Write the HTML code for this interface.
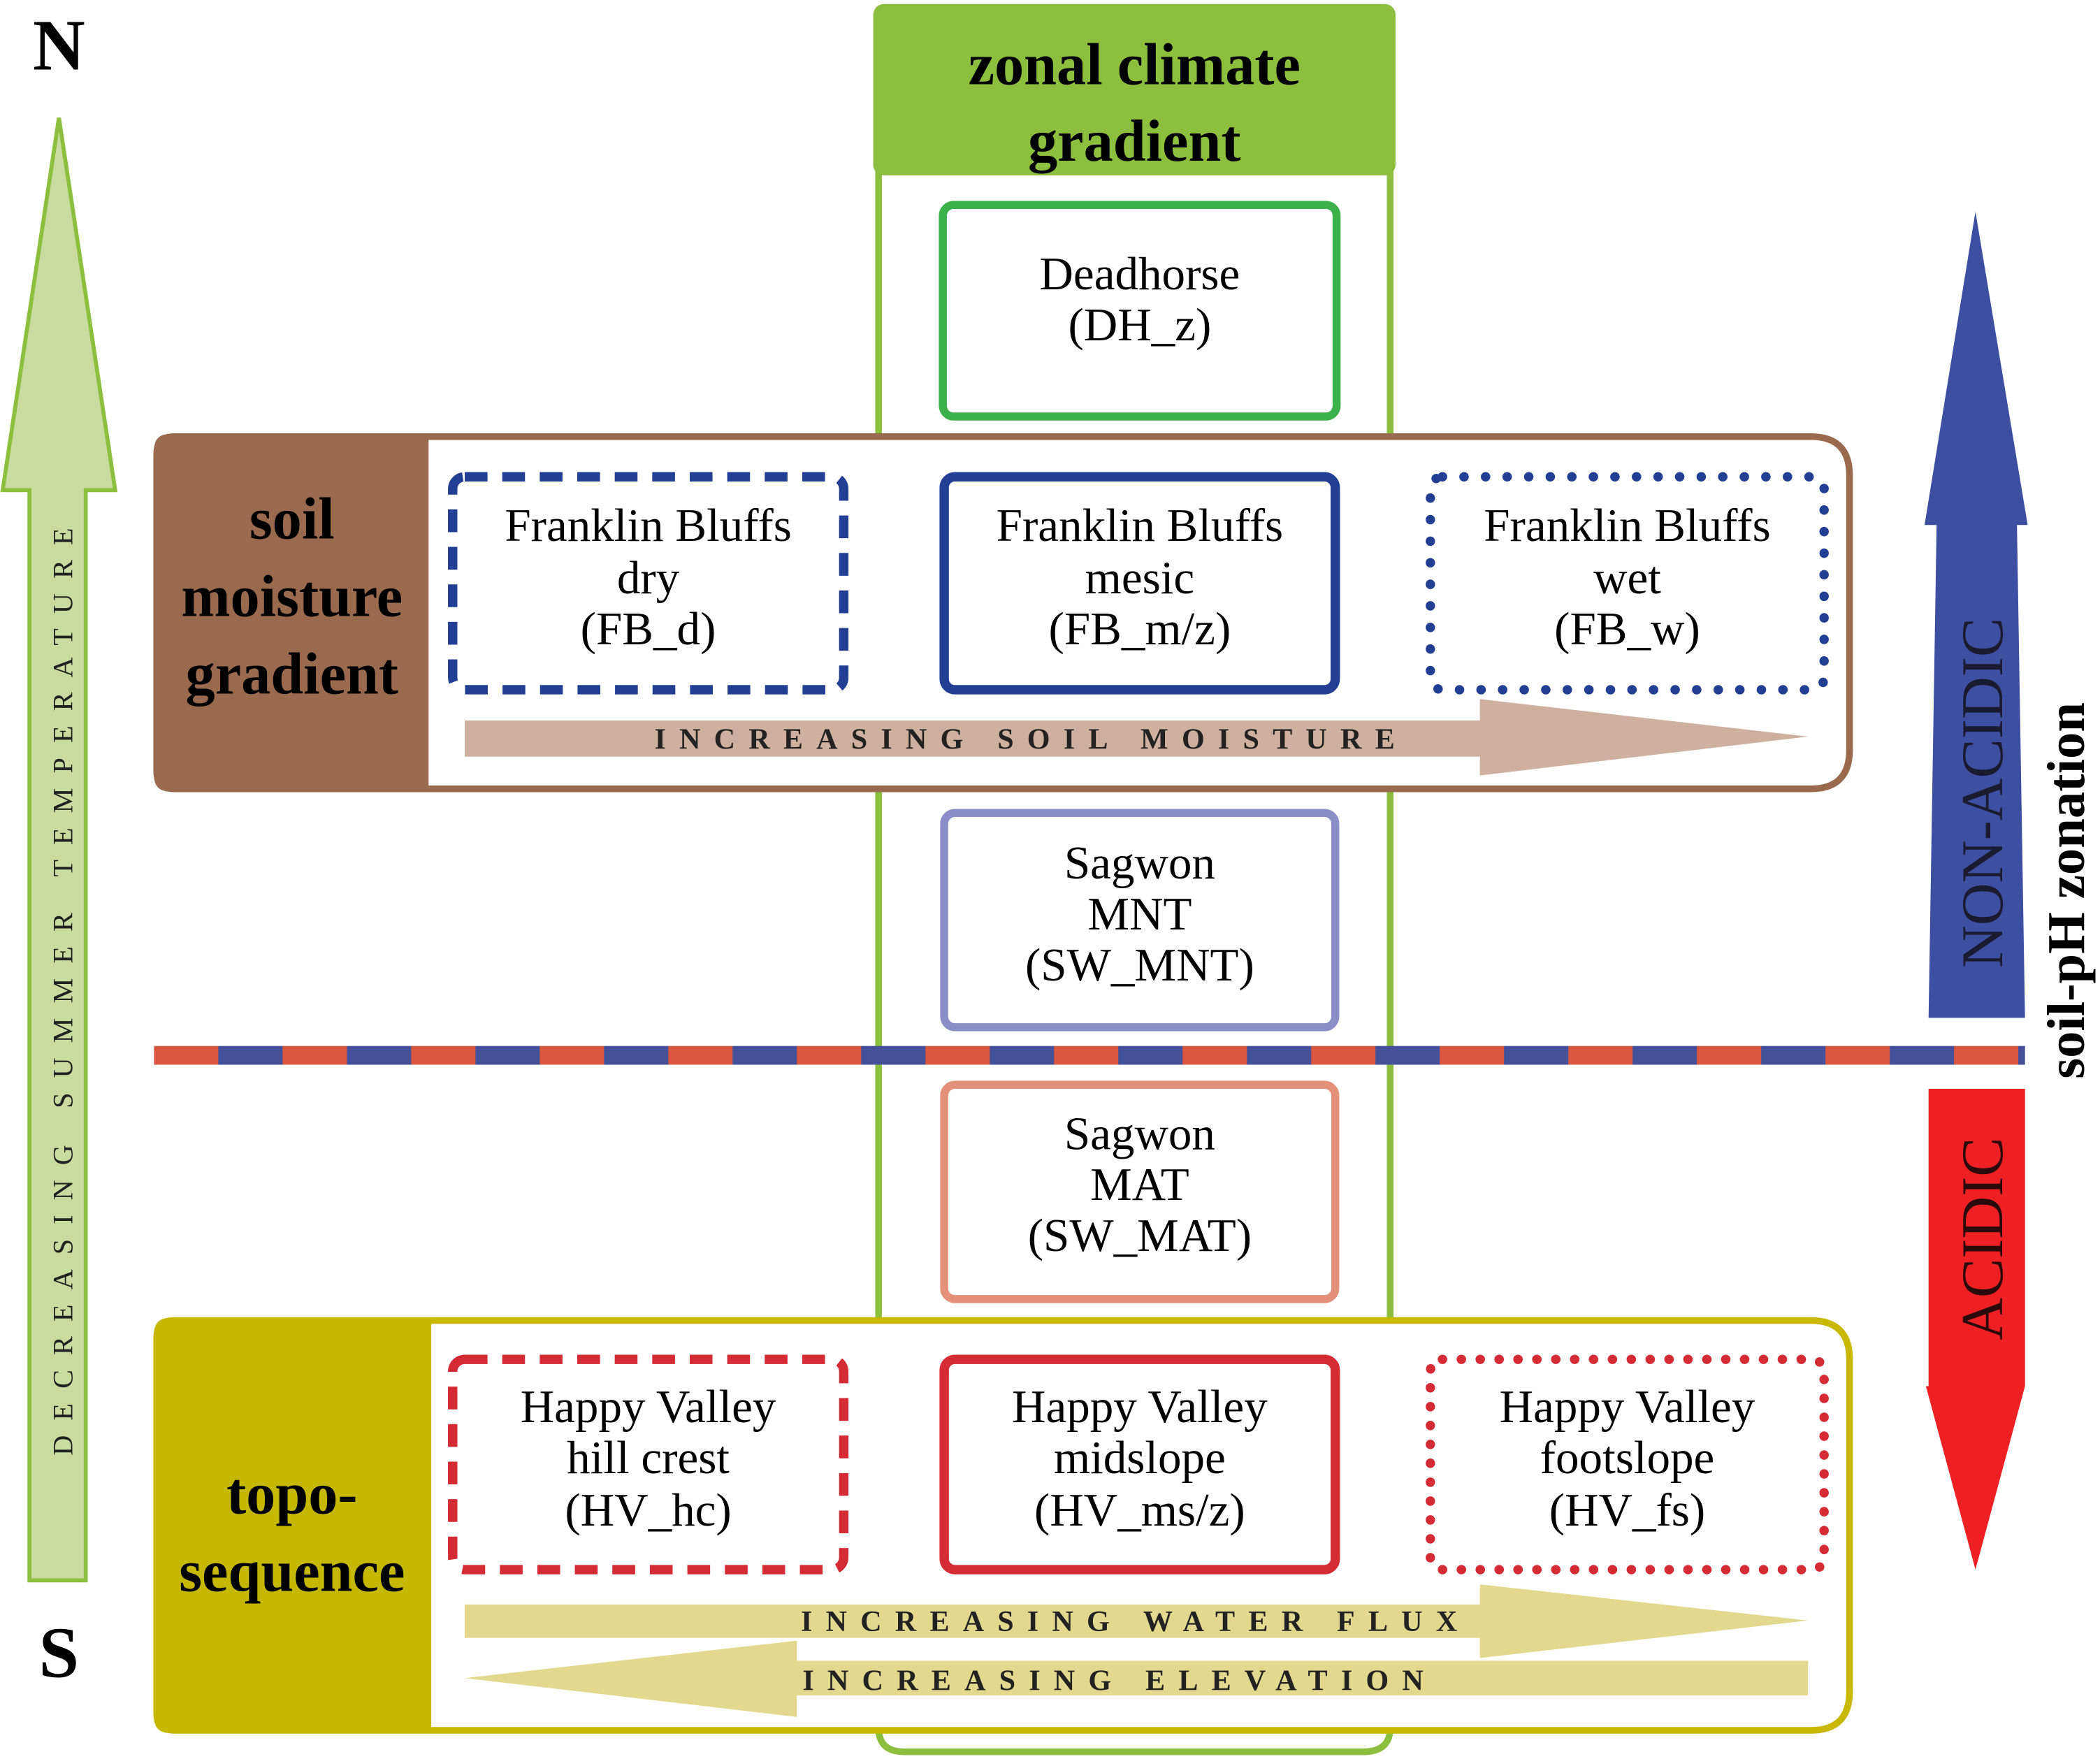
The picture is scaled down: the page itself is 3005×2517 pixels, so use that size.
<!DOCTYPE html>
<html><head><meta charset="utf-8"><style>
html,body{margin:0;padding:0;background:#fff;}
svg{display:block;}
text{font-family:"Liberation Serif",serif;}
</style></head><body>
<svg width="3005" height="2517" viewBox="0 0 1568 1313.4" xmlns="http://www.w3.org/2000/svg" preserveAspectRatio="none">
<defs>
<pattern id="dl" x="115" y="0" width="96" height="20" patternUnits="userSpaceOnUse">
<rect x="0" y="0" width="48" height="20" fill="#d9573f"/><rect x="48" y="0" width="48" height="20" fill="#45509a"/>
</pattern>
</defs>
<text x="44" y="52" font-size="54" font-weight="bold" text-anchor="middle">N</text>
<text x="44" y="1252" font-size="54" font-weight="bold" text-anchor="middle">S</text>
<polygon points="44,88 86,366 64,366 64,1180 22,1180 22,366 2,366" fill="#c9dc9f" stroke="#8dbf3f" stroke-width="3"/>
<text transform="translate(54,735) rotate(-90)" font-size="21" text-anchor="middle" letter-spacing="11" fill="#222">DECREASING SUMMER TEMPERATURE</text>
<path d="M656,125 L656,1290 Q656,1308 675,1308 L1018,1308 Q1038,1308 1038,1290 L1038,125" fill="none" stroke="#8dbf3f" stroke-width="5"/>
<rect x="652" y="3" width="390" height="128" rx="8" fill="#8dbf3f"/>
<text x="847" y="63" font-size="44" font-weight="bold" text-anchor="middle">zonal climate</text>
<text x="847" y="120" font-size="44" font-weight="bold" text-anchor="middle">gradient</text>
<rect x="704" y="153" width="294" height="158" rx="8" fill="#fff" stroke="#3cb04a" stroke-width="6"/>
<text x="851" y="216" font-size="35" text-anchor="middle">Deadhorse</text>
<text x="851" y="254" font-size="35" text-anchor="middle">(DH_z)</text>
<path d="M130,326 L1352,326 Q1381,326 1381,355 L1381,560 Q1381,589 1352,589 L130,589 Q117,589 117,576 L117,339 Q117,326 130,326 Z" fill="#fff" stroke="#9a6a4e" stroke-width="5"/>
<path d="M127,324 L320,324 L320,591 L127,591 Q115,591 115,579 L115,336 Q115,324 127,324 Z" fill="#9a6a4e"/>
<text x="218" y="402" font-size="44" font-weight="bold" text-anchor="middle">soil</text>
<text x="218" y="460" font-size="44" font-weight="bold" text-anchor="middle">moisture</text>
<text x="218" y="518" font-size="44" font-weight="bold" text-anchor="middle">gradient</text>
<rect x="338" y="356" width="292" height="159" rx="9" fill="none" stroke="#233f94" stroke-width="7" stroke-dasharray="17,11"/>
<rect x="705" y="356" width="292" height="159" rx="8" fill="none" stroke="#233f94" stroke-width="7"/>
<rect x="1068" y="356" width="294" height="159" rx="9" fill="none" stroke="#233f94" stroke-width="7" stroke-dasharray="0.1,16" stroke-linecap="round"/>
<g font-size="35" text-anchor="middle">
<text x="484" y="404">Franklin Bluffs</text><text x="484" y="443">dry</text><text x="484" y="481">(FB_d)</text>
<text x="851" y="404">Franklin Bluffs</text><text x="851" y="443">mesic</text><text x="851" y="481">(FB_m/z)</text>
<text x="1215" y="404">Franklin Bluffs</text><text x="1215" y="443">wet</text><text x="1215" y="481">(FB_w)</text>
</g>
<polygon points="347,538 1105,538 1105,522 1350,550 1105,579 1105,565 347,565" fill="#cfb09e"/>
<text x="770" y="559" font-size="22" font-weight="bold" text-anchor="middle" letter-spacing="10" fill="#222">INCREASING SOIL MOISTURE</text>
<rect x="705" y="607" width="292" height="160" rx="8" fill="#fff" stroke="#8b8fc7" stroke-width="6"/>
<g font-size="35" text-anchor="middle">
<text x="851" y="656">Sagwon</text><text x="851" y="694">MNT</text><text x="851" y="732">(SW_MNT)</text>
</g>
<rect x="115" y="781" width="1397" height="14" fill="url(#dl)"/>
<rect x="705" y="810" width="292" height="160" rx="8" fill="#fff" stroke="#e3917b" stroke-width="6"/>
<g font-size="35" text-anchor="middle">
<text x="851" y="858">Sagwon</text><text x="851" y="896">MAT</text><text x="851" y="934">(SW_MAT)</text>
</g>
<path d="M130,986 L1352,986 Q1381,986 1381,1015 L1381,1263 Q1381,1292 1352,1292 L130,1292 Q117,1292 117,1279 L117,999 Q117,986 130,986 Z" fill="#fff" stroke="#c8b800" stroke-width="5"/>
<path d="M127,984 L322,984 L322,1294 L127,1294 Q115,1294 115,1282 L115,996 Q115,984 127,984 Z" fill="#c6b700"/>
<text x="218" y="1130" font-size="44" font-weight="bold" text-anchor="middle">topo-</text>
<text x="218" y="1188" font-size="44" font-weight="bold" text-anchor="middle">sequence</text>
<rect x="338" y="1015" width="292" height="157" rx="9" fill="none" stroke="#d42b35" stroke-width="7" stroke-dasharray="17,11"/>
<rect x="705" y="1015" width="292" height="157" rx="8" fill="none" stroke="#d42b35" stroke-width="7"/>
<rect x="1068" y="1015" width="294" height="157" rx="9" fill="none" stroke="#d42b35" stroke-width="7" stroke-dasharray="0.1,14" stroke-linecap="round"/>
<g font-size="35" text-anchor="middle">
<text x="484" y="1062">Happy Valley</text><text x="484" y="1100">hill crest</text><text x="484" y="1139">(HV_hc)</text>
<text x="851" y="1062">Happy Valley</text><text x="851" y="1100">midslope</text><text x="851" y="1139">(HV_ms/z)</text>
<text x="1215" y="1062">Happy Valley</text><text x="1215" y="1100">footslope</text><text x="1215" y="1139">(HV_fs)</text>
</g>
<polygon points="347,1198 1105,1198 1105,1183 1350,1210 1105,1238 1105,1223 347,1223" fill="#e3d98e"/>
<text x="848" y="1218" font-size="22" font-weight="bold" text-anchor="middle" letter-spacing="10" fill="#222">INCREASING WATER FLUX</text>
<polygon points="1350,1240 595,1240 595,1225 347,1253 595,1282 595,1266 1350,1266" fill="#e3d98e"/>
<text x="836" y="1262" font-size="22" font-weight="bold" text-anchor="middle" letter-spacing="10" fill="#222">INCREASING ELEVATION</text>
<polygon points="1475,158 1514,392 1506,392 1512,760 1440,760 1446,392 1437,392" fill="#3d4fa1"/>
<text transform="translate(1495,592) rotate(-90)" font-size="44" text-anchor="middle" fill="#1a1a30">NON-ACIDIC</text>
<polygon points="1440,813 1512,813 1512,1035 1475,1172 1438,1035 1440,1035" fill="#ee2024"/>
<text transform="translate(1495,925) rotate(-90)" font-size="44" text-anchor="middle" fill="#2a0a0a">ACIDIC</text>
<text transform="translate(1556,665) rotate(-90)" font-size="40" font-weight="bold" text-anchor="middle">soil-pH zonation</text>
</svg>
</body></html>
